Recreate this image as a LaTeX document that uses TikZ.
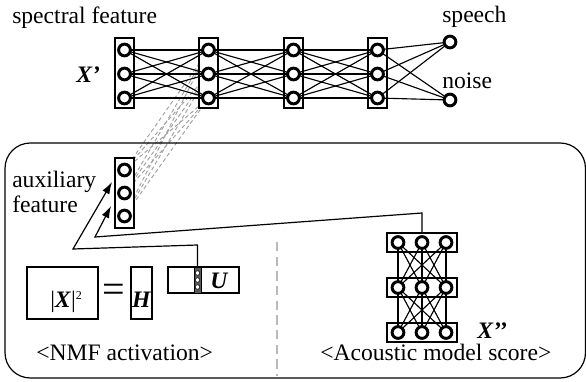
\documentclass[tikz,border=0pt]{standalone}
\usepackage{fontspec}
\setmainfont{Liberation Serif}
\usetikzlibrary{arrows.meta}
\pgfdeclarelayer{back}
\pgfdeclarelayer{conn}
\pgfdeclarelayer{front}
\pgfsetlayers{back,main,conn,front}
\begin{document}
\begin{tikzpicture}[x=0.75pt,y=-0.75pt,
  neuron/.style={circle,draw,line width=2.2pt,fill=white,minimum size=8.8pt,inner sep=0pt},
  tiny/.style={circle,draw,line width=0.4pt,fill=white,minimum size=3.4pt,inner sep=0pt},
  vbox/.style={draw,fill=white,line width=0.9pt,minimum width=14.25pt,minimum height=52.5pt,inner sep=0pt},
  hbox/.style={draw,fill=white,line width=0.9pt,minimum width=52.5pt,minimum height=14.25pt,inner sep=0pt},
  plain/.style={draw,line width=0.9pt,inner sep=0pt},
  wire/.style={line width=0.85pt},
  auxline/.style={gray!75,dash pattern=on 3pt off 2pt,line width=0.7pt},
  lbl/.style={inner sep=0pt,anchor=base west,font=\fontsize{17.7}{20}\selectfont},
  arr/.style={line width=0.9pt,-{Latex[length=9pt,width=6pt]}}
]
\useasboundingbox (0,0) rectangle (586,382);

% outer rounded frame
\draw[line width=0.9pt,rounded corners=19pt] (5,143) rectangle (585.5,378);

% top network
\foreach \i/\x in {1/124.5,2/208.5,3/293.5,4/377.5}{
  \node[vbox] (L\i) at (\x,73) {};
  \begin{pgfonlayer}{front}
  \foreach \j/\y in {1/50,2/74,3/98}{
    \node[neuron] (n\i\j) at (\x,\y) {};
  }
  \end{pgfonlayer}
}
\begin{pgfonlayer}{front}
\node[neuron] (sp) at (450,42) {};
\node[neuron] (no) at (450,100) {};
\end{pgfonlayer}
\begin{pgfonlayer}{conn}
\foreach \a/\b in {1/2,2/3,3/4}{
  \foreach \j in {1,2,3}{
    \foreach \k in {1,2,3}{
      \draw[wire] (n\a\j.center) -- (n\b\k.center);
    }
  }
}
\foreach \j in {1,2,3}{
  \draw[wire] (n4\j.center) -- (sp.center);
  \draw[wire] (n4\j.center) -- (no.center);
}
\end{pgfonlayer}

% auxiliary layer
\node[vbox] (A) at (124.5,193) {};
\begin{pgfonlayer}{front}
\foreach \j/\y in {1/170,2/193,3/216}{
  \node[neuron] (a\j) at (124.5,\y) {};
}
\end{pgfonlayer}
\begin{pgfonlayer}{back}
\foreach \j in {1,2,3}{
  \foreach \k in {1,2,3}{
    \draw[auxline] (a\j.center) -- (n2\k.center);
  }
}
\end{pgfonlayer}

% acoustic model
\foreach \r/\y in {1/242.5,2/287.5,3/332.5}{
  \node[hbox] (M\r) at (422,\y) {};
  \begin{pgfonlayer}{front}
  \foreach \c/\x in {1/398,2/422,3/446}{
    \node[neuron] (m\r\c) at (\x,\y) {};
  }
  \end{pgfonlayer}
}
\begin{pgfonlayer}{conn}
\foreach \a/\b in {1/2,2/3}{
  \foreach \j in {1,2,3}{
    \foreach \k in {1,2,3}{
      \draw[wire] (m\a\j.center) -- (m\b\k.center);
    }
  }
}
\end{pgfonlayer}

% NMF part
\node[plain,minimum width=53.25pt,minimum height=39pt] (XB) at (62.5,293) {};
\node[plain,minimum width=15.75pt,minimum height=39pt] (HB) at (141.5,293) {};
\node[plain,fill=white,minimum width=53.25pt,minimum height=19.5pt] (UB) at (203.5,280) {};
\node[draw,line width=0.5pt,fill=gray!70!black,minimum width=5.25pt,minimum height=19.5pt,inner sep=0pt] (UC) at (197.5,280) {};
\foreach \k/\y in {1/273,2/280,3/287}{
  \node[tiny] (uc\k) at (197.5,\y) {};
}
\node[lbl] (tX) at (50,307) {|\textbf{\textit{X}}|\raisebox{6pt}{\fontsize{9}{9}\selectfont 2}};
\node[inner sep=0pt,font=\fontsize{30}{30}\selectfont] (eq) at (114,293) {=};
\node[lbl,anchor=base] (tH) at (141.5,307) {\textbf{\textit{H}}};
\node[lbl] (tU) at (210,288) {\textbf{\textit{U}}};

% arrows
\coordinate (c1) at (197.5,245);
\coordinate (c2) at (73,249);
\coordinate (c3) at (112,182);
\draw[arr] (UB.north -| UC) -- (c1) -- (c2) -- (c3);
\coordinate (d1) at (422,213);
\coordinate (d2) at (95,237);
\coordinate (d3) at (111,206);
\draw[arr] (M1.north) -- (d1) -- (d2) -- (d3);

% divider
\coordinate (v1) at (277,242);
\coordinate (v2) at (277,376);
\draw[gray!55,line width=0.8pt,dash pattern=on 7pt off 4pt] (v1) -- (v2);

% labels
\node[lbl] (t1) at (12,23) {spectral feature};
\node[lbl] (xp) at (76,82) {\textbf{\textit{X’}}};
\node[lbl] (tsp) at (442,22) {speech};
\node[lbl] (tno) at (442,88) {noise};
\node[lbl] (tau) at (12,187) {auxiliary};
\node[lbl] (tfe) at (12,212) {feature};
\node[lbl] (tnmf) at (36,360) {<NMF activation>};
\node[lbl] (tam) at (320,360) {<Acoustic model score>};
\node[lbl] (xpp) at (477,338) {\textbf{\textit{X’’}}};
\end{tikzpicture}
\end{document}
